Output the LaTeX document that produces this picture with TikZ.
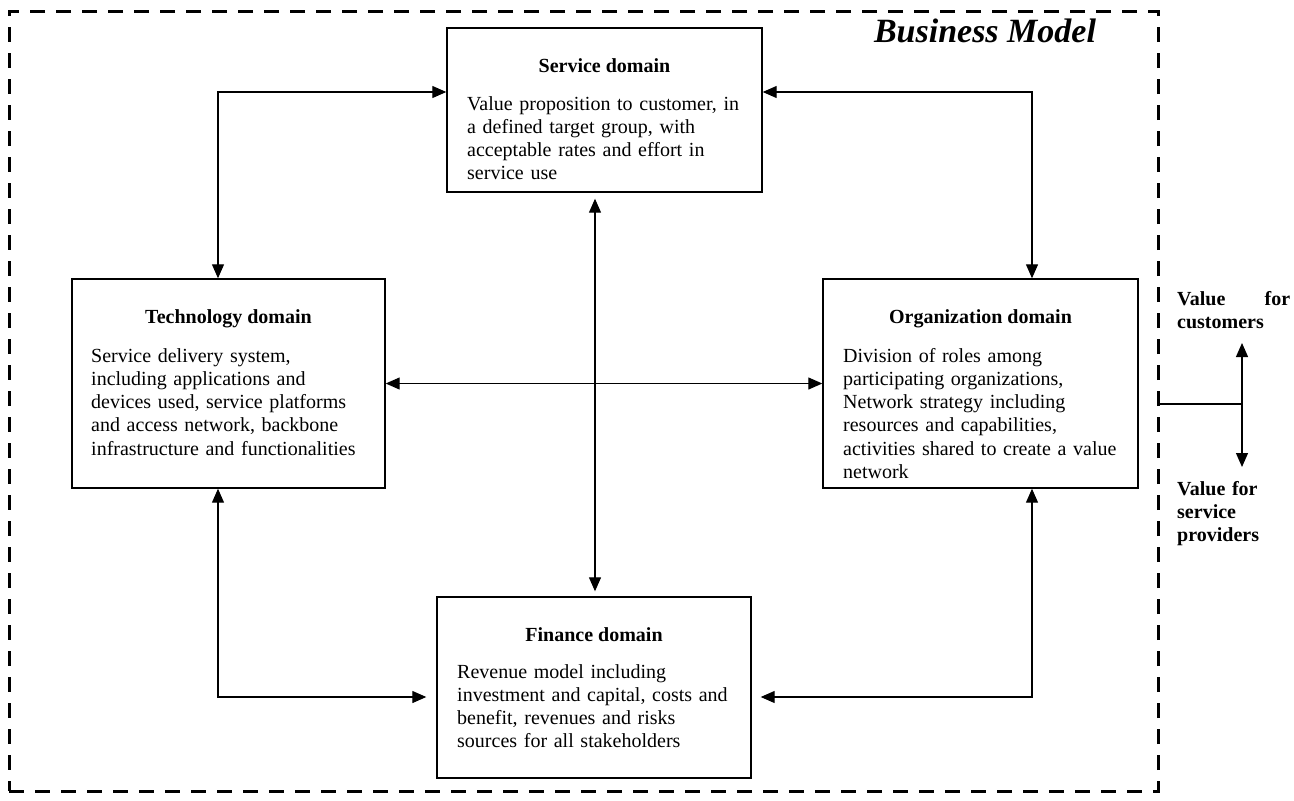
\documentclass[tikz,border=0pt]{standalone}
\usepackage{fontspec}
\setmainfont{Liberation Serif}
\usetikzlibrary{arrows.meta}
\begin{document}
\begin{tikzpicture}[x=1pt,y=-1pt,
  >={Triangle[length=14pt,width=12pt]},
  box/.style={draw, line width=1.4pt, inner sep=0pt},
  border/.style={draw, line width=3pt, dash pattern=on 15pt off 11pt, inner sep=0pt},
  head/.style={font=\fontsize{20}{23.2}\selectfont\bfseries, anchor=base, inner sep=0pt},
  body/.style={font=\fontsize{20}{23.2}\selectfont, anchor=north west, inner sep=0pt,
               text width=295pt, align=left},
  lab/.style={font=\fontsize{20}{23.2}\selectfont\bfseries, anchor=north west, inner sep=0pt,
              text width=113pt, align=left},
  title/.style={font=\fontsize{34}{40}\selectfont\bfseries\itshape, anchor=base, inner sep=0pt},
  link/.style={line width=1.2pt},
  both/.style={link, <->},
]
\useasboundingbox (0,0) rectangle (1294,801);

% outer dashed frame of the business model
\node[border, minimum width=1149pt, minimum height=780pt] (bm) at (583.5,401) {};
\node[title] (bmt) at (985,42) {Business Model};

% the four domains
\node[box, minimum width=315pt, minimum height=164pt] (svc)  at (604.5,110) {};
\node[box, minimum width=313pt, minimum height=209pt] (tech) at (228.5,383.5) {};
\node[box, minimum width=315pt, minimum height=209pt] (org)  at (980.5,383.5) {};
\node[box, minimum width=314pt, minimum height=181pt] (fin)  at (594,687.5) {};

\node[head] (svch) at (604.5,72) {Service domain};
\node[body] (svcb) at (467,93.76) {\strut Value proposition to customer, in\\
  a defined target group, with\\ acceptable rates and effort in\\ service use};

\node[head] (techh) at (228.5,323) {Technology domain};
\node[body] (techb) at (91,345.76) {\strut Service delivery system,\\
  including applications and\\ devices used, service platforms\\
  and access network, backbone\\ infrastructure and functionalities};

\node[head] (orgh) at (980.5,323) {Organization domain};
\node[body] (orgb) at (843,345.76) {\strut Division of roles among\\
  participating organizations,\\ Network strategy including\\
  resources and capabilities,\\ activities shared to create a value\\ network};

\node[head] (finh) at (594,641) {Finance domain};
\node[body] (finb) at (457,661.76) {\strut Revenue model including\\
  investment and capital, costs and\\ benefit, revenues and risks\\
  sources for all stakeholders};

% bends of the connectors
\coordinate (tl) at (218,92);
\coordinate (tr) at (1032,92);
\coordinate (bl) at (218,697);
\coordinate (br) at (1032,697);
\coordinate (cx) at (595,0);

\draw[both] (svc.west |- tl) -- (tl) -- (tech.north -| tl);
\draw[both] (svc.east |- tr) -- (tr) -- (org.north -| tr);
\draw[both, shorten <=6pt, shorten >=5pt] (svc.south -| cx) -- (fin.north -| cx);
\draw[both] (tech.east) -- (org.west);
\draw[both, shorten >=10pt] (tech.south -| bl) -- (bl) -- (fin.west |- bl);
\draw[both, shorten >=9pt] (org.south -| br) -- (br) -- (fin.east |- br);

% value outputs on the right
\coordinate (jn) at (1242,404);
\coordinate (vup) at (1242,343);
\coordinate (vdn) at (1242,467);
\draw[link] (bm.east |- jn) -- (jn);
\draw[link, ->] (jn) -- (vup);
\draw[link, ->] (jn) -- (vdn);

\node[lab] (vcust) at (1177,288.76) {\strut Value\hfill for\\customers};
\node[lab] (vprov) at (1177,478.76) {\strut Value for\\service\\providers};
\end{tikzpicture}
\end{document}
